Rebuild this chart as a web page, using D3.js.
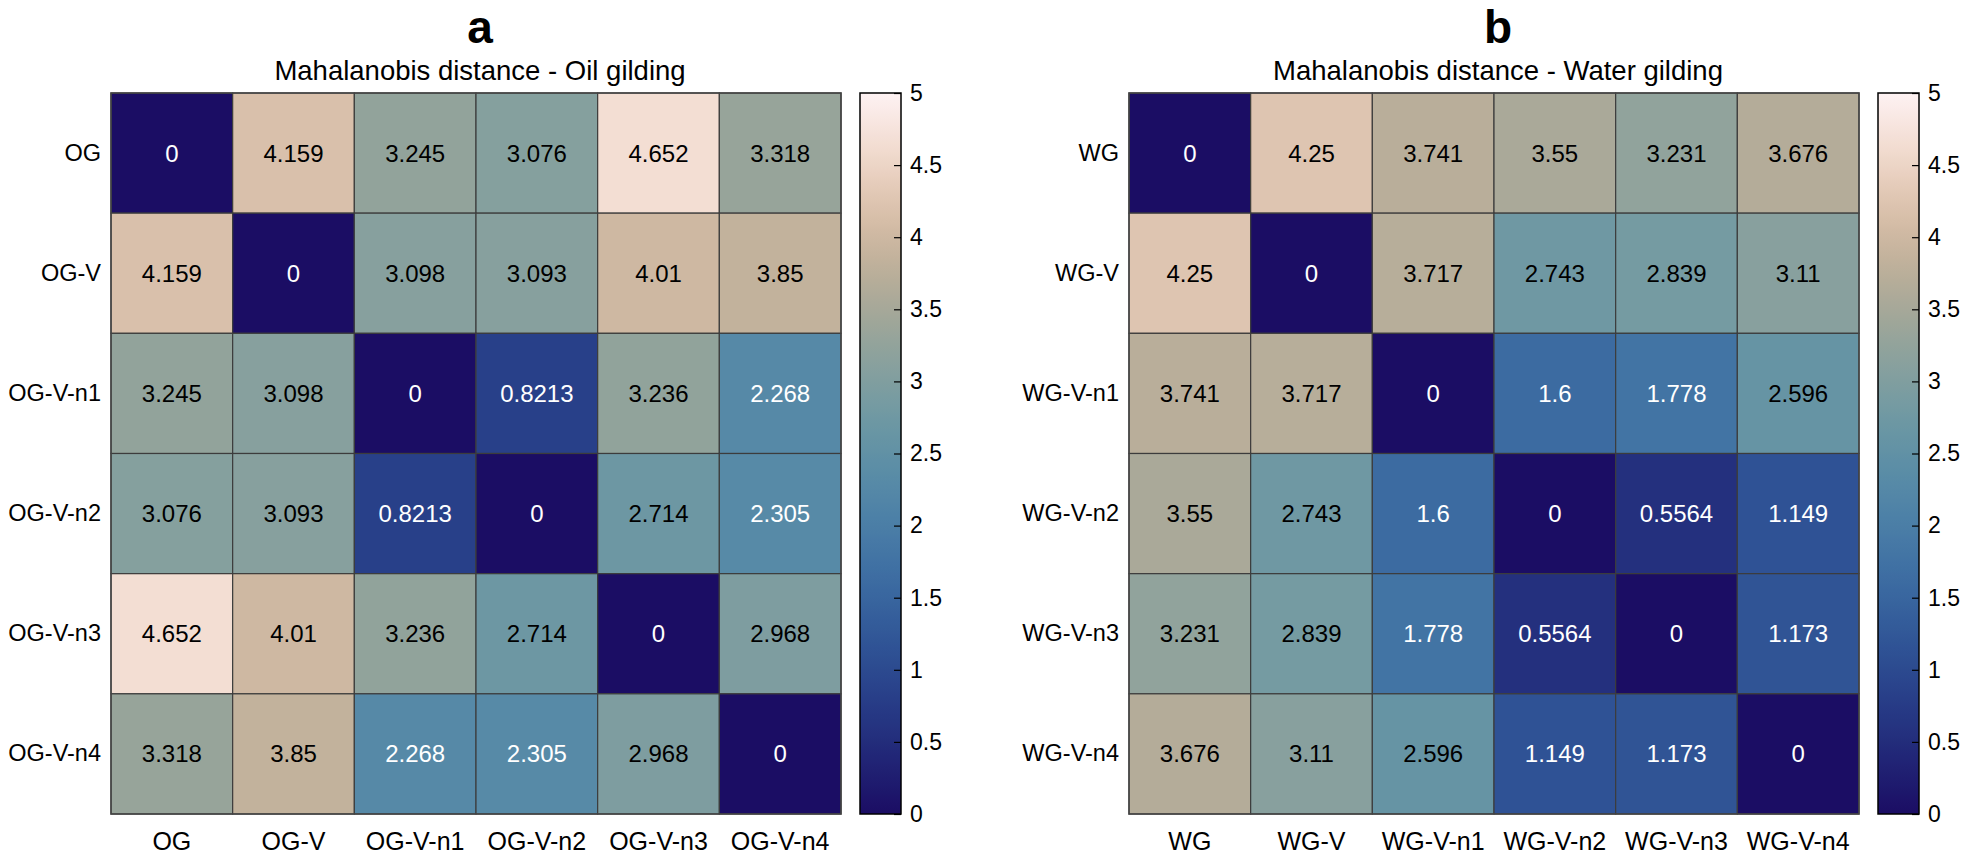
<!DOCTYPE html>
<html>
<head>
<meta charset="utf-8">
<script src="https://cdn.jsdelivr.net/npm/d3@7"></script>
<style>
  html, body { margin: 0; padding: 0; background: #fff; }
  svg { display: block; font-family: "Liberation Sans", Arial, Helvetica, sans-serif; }
</style>
</head>
<body>
<svg id="chart" width="1961" height="862"></svg>
<script>
// ---- data ----
const catsA = ["OG", "OG-V", "OG-V-n1", "OG-V-n2", "OG-V-n3", "OG-V-n4"];
const valsA = [
  [0, 4.159, 3.245, 3.076, 4.652, 3.318],
  [4.159, 0, 3.098, 3.093, 4.01, 3.85],
  [3.245, 3.098, 0, 0.8213, 3.236, 2.268],
  [3.076, 3.093, 0.8213, 0, 2.714, 2.305],
  [4.652, 4.01, 3.236, 2.714, 0, 2.968],
  [3.318, 3.85, 2.268, 2.305, 2.968, 0]
];
const catsB = ["WG", "WG-V", "WG-V-n1", "WG-V-n2", "WG-V-n3", "WG-V-n4"];
const valsB = [
  [0, 4.25, 3.741, 3.55, 3.231, 3.676],
  [4.25, 0, 3.717, 2.743, 2.839, 3.11],
  [3.741, 3.717, 0, 1.6, 1.778, 2.596],
  [3.55, 2.743, 1.6, 0, 0.5564, 1.149],
  [3.231, 2.839, 1.778, 0.5564, 0, 1.173],
  [3.676, 3.11, 2.596, 1.149, 1.173, 0]
];
const panelLetters = ["a", "b"];
const panelTitles = ["Mahalanobis distance - Oil gilding", "Mahalanobis distance - Water gilding"];
const cbTicks = [0, 0.5, 1, 1.5, 2, 2.5, 3, 3.5, 4, 4.5, 5];
const cbDomain = [0, 5];
// colormap (lapaz-like) stops sampled from the colour bar at 0, 0.5, ... 5
const cmapStops = ["#1b0d64", "#232d7c", "#2b4a90", "#3866a0", "#4a7fa8", "#5f92a6",
                   "#7f9fa0", "#a5a796", "#cfb59c", "#efd5c5", "#fef2f3"];

// ---- rendering ----
const svg = d3.select("#chart");
const font = 24;
const color = d3.scaleSequential(d3.interpolateRgbBasis(cmapStops)).domain(cbDomain);

const panels = [
  { cats: catsA, vals: valsA, x0: 111, cbx: 860 },
  { cats: catsB, vals: valsB, x0: 1129, cbx: 1878 }
];
const plotTop = 93, plotBottom = 814, plotW = 730, cbW = 41;

// gradient
const defs = svg.append("defs");
const grad = defs.append("linearGradient").attr("id", "cbgrad")
  .attr("x1", 0).attr("y1", 1).attr("x2", 0).attr("y2", 0);
d3.range(0, 101).forEach(i => {
  const v = cbDomain[0] + (cbDomain[1] - cbDomain[0]) * i / 100;
  grad.append("stop").attr("offset", i + "%").attr("stop-color", color(v));
});

panels.forEach((p, pi) => {
  const g = svg.append("g");
  const x = d3.scaleBand().domain(p.cats).range([p.x0, p.x0 + plotW]);
  const y = d3.scaleBand().domain(p.cats).range([plotTop, plotBottom]);

  const cells = [];
  p.vals.forEach((row, ri) => row.forEach((v, ci) => cells.push({ r: p.cats[ri], c: p.cats[ci], v })));

  g.selectAll("rect.cell").data(cells).enter().append("rect")
    .attr("class", "cell")
    .attr("x", d => x(d.c)).attr("y", d => y(d.r))
    .attr("width", x.bandwidth()).attr("height", y.bandwidth())
    .attr("fill", d => color(d.v))
    .attr("stroke", "#3c3c3c").attr("stroke-width", 1.2);

  g.selectAll("text.val").data(cells).enter().append("text")
    .attr("class", "val")
    .attr("x", d => x(d.c) + x.bandwidth() / 2)
    .attr("y", d => y(d.r) + y.bandwidth() / 2)
    .attr("text-anchor", "middle").attr("dominant-baseline", "central")
    .attr("font-size", font)
    .attr("fill", d => d.v < 2.5 ? "#fff" : "#000")
    .text(d => String(d.v));

  // outer frame
  g.append("rect").attr("x", p.x0).attr("y", plotTop).attr("width", plotW).attr("height", plotBottom - plotTop)
    .attr("fill", "none").attr("stroke", "#444").attr("stroke-width", 1.5);

  // axes (labels only)
  const ax = g.append("g").attr("transform", `translate(${p.x0},0)`)
    .call(d3.axisLeft(y).tickSize(0).tickPadding(10));
  ax.select(".domain").remove();
  ax.selectAll("text").attr("font-size", 23.5).attr("font-family", null).attr("fill", "#000");

  const bx = g.append("g").attr("transform", `translate(0,${plotBottom})`)
    .call(d3.axisBottom(x).tickSize(0).tickPadding(18));
  bx.select(".domain").remove();
  bx.selectAll("text").attr("font-size", 25).attr("font-family", null).attr("fill", "#000");

  // titles
  const cx = p.x0 + plotW / 2 + 4;
  g.append("text").attr("x", cx).attr("y", 43).attr("text-anchor", "middle")
    .attr("font-size", 46).attr("font-weight", "bold").text(panelLetters[pi]);
  g.append("text").attr("x", cx).attr("y", 80).attr("text-anchor", "middle")
    .attr("font-size", 27.5).text(panelTitles[pi]);

  // colorbar
  const cy = d3.scaleLinear().domain(cbDomain).range([plotBottom, plotTop]);
  g.append("rect").attr("x", p.cbx).attr("y", plotTop).attr("width", cbW).attr("height", plotBottom - plotTop)
    .attr("fill", "url(#cbgrad)");
  const cax = g.append("g").attr("transform", `translate(${p.cbx + cbW},0)`)
    .call(d3.axisRight(cy).tickValues(cbTicks).tickSize(-7).tickPadding(9).tickFormat(d => String(d)));
  cax.select(".domain").remove();
  cax.selectAll("line").attr("stroke", "#000").attr("stroke-width", 1.2);
  cax.selectAll("text").attr("font-size", 23).attr("font-family", null).attr("fill", "#000");
  g.append("rect").attr("x", p.cbx).attr("y", plotTop).attr("width", cbW).attr("height", plotBottom - plotTop)
    .attr("fill", "none").attr("stroke", "#000").attr("stroke-width", 1.5);
});
</script>
</body>
</html>
